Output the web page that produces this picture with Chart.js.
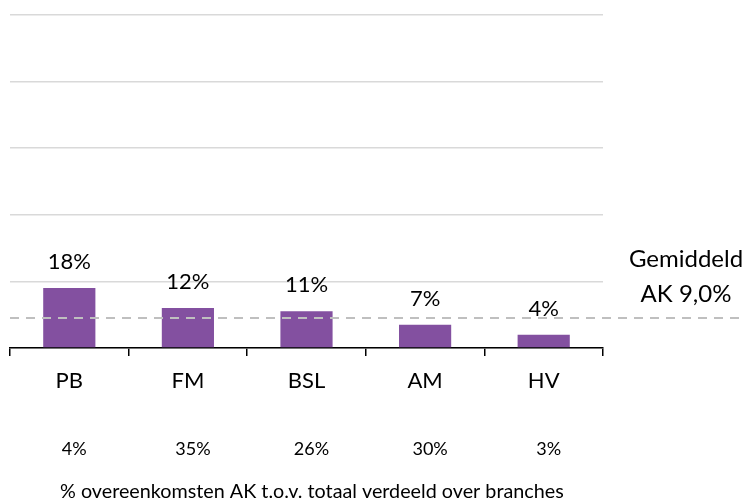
<!DOCTYPE html>
<html>
<head>
<meta charset="utf-8">
<script src="https://cdn.jsdelivr.net/npm/chart.js@4"></script>
<style>
  html, body { margin: 0; padding: 0; background: #fff; }
  #wrap { position: relative; width: 746px; height: 500px; }
</style>
</head>
<body>
<div id="wrap"><canvas id="c" width="746" height="500"></canvas></div>
<script>
'use strict';

// ── data ──
var branches = ['PB', 'FM', 'BSL', 'AM', 'HV'];
var akPct = [18, 12, 11, 7, 4];          // % AK per branche
var shareLabels = ['4%', '35%', '26%', '30%', '3%'];  // aandeel in totaal
var avgAK = 9.0;
var yTicks = [0, 20, 40, 60, 80, 100];
var caption = '% overeenkomsten AK t.o.v. totaal verdeeld over branches';

var FONT = "Lato, sans-serif";
var BAR_COLOR = '#8350a0';

// ── value labels above each bar ──
var valueLabels = {
  id: 'valueLabels',
  afterDatasetsDraw: function(chart){
    var ctx = chart.ctx;
    var meta = chart.getDatasetMeta(0);
    ctx.save();
    ctx.font = '22px ' + FONT;
    ctx.fillStyle = '#000';
    ctx.textAlign = 'center';
    ctx.textBaseline = 'middle';
    meta.data.forEach(function(bar, i){
      ctx.fillText(akPct[i] + '%', bar.x, bar.y - 26);
    });
    ctx.restore();
  }
};

// ── average line + label, share row, caption ──
var extras = {
  id: 'extras',
  afterDraw: function(chart){
    var ctx = chart.ctx;
    var area = chart.chartArea;
    var y = chart.scales.y.getPixelForValue(avgAK);
    ctx.save();
    ctx.strokeStyle = '#bfbfbf';
    ctx.lineWidth = 2;
    ctx.setLineDash([9, 7]);
    ctx.beginPath();
    ctx.moveTo(area.left, y);
    ctx.lineTo(chart.width, y);
    ctx.stroke();
    ctx.setLineDash([]);

    ctx.fillStyle = '#000';
    ctx.textAlign = 'center';
    ctx.textBaseline = 'middle';
    ctx.font = '24px ' + FONT;
    ctx.fillText('Gemiddeld', 686, 259);
    ctx.fillText('AK ' + avgAK.toFixed(1).replace('.', ',') + '%', 686, 294);

    // share of total, one under each branch
    ctx.font = '18px ' + FONT;
    var meta = chart.getDatasetMeta(0);
    shareLabels.forEach(function(s, i){
      ctx.fillText(s, meta.data[i].x + 5, 449);
    });

    // caption, fitted to its line width
    var size = 20;
    ctx.font = size + 'px ' + FONT;
    size = size * 504 / ctx.measureText(caption).width;
    ctx.font = size.toFixed(2) + 'px ' + FONT;
    ctx.textAlign = 'left';
    ctx.fillText(caption, 60, 492);
    ctx.restore();
  }
};

new Chart(document.getElementById('c'), {
  type: 'bar',
  data: {
    labels: branches,
    datasets: [{
      data: akPct,
      backgroundColor: BAR_COLOR,
      borderWidth: 0,
      categoryPercentage: 1,
      barPercentage: 0.44
    }]
  },
  options: {
    responsive: false,
    animation: false,
    layout: { padding: { left: 10, right: 143, top: 15, bottom: 0 } },
    plugins: { legend: { display: false }, tooltip: { enabled: false } },
    scales: {
      x: {
        offset: true,
        grid: { offset: true, drawOnChartArea: false, drawTicks: true, tickLength: 8, color: '#000', lineWidth: 1.5 },
        border: { display: true, color: '#000', width: 1.5 },
        ticks: { color: '#000', font: { size: 22, family: FONT }, padding: 12 },
        afterFit: function(s){ s.height = 152; }
      },
      y: {
        min: 0, max: 100,
        afterBuildTicks: function(s){ s.ticks = yTicks.map(function(v){ return { value: v }; }); },
        grid: { color: '#d9d9d9', lineWidth: 1.5, drawTicks: false },
        border: { display: false },
        ticks: { display: false },
        afterFit: function(s){ s.width = 0; }
      }
    }
  },
  plugins: [valueLabels, extras]
});
</script>
</body>
</html>
